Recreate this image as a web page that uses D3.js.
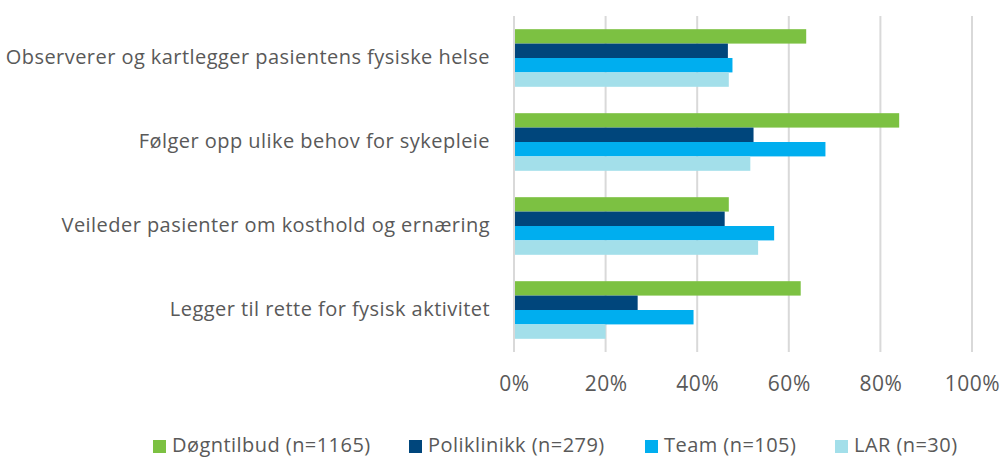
<!DOCTYPE html>
<html>
<head>
  <meta charset="utf-8">
  <script src="https://d3js.org/d3.v7.min.js"></script>
  <style>
    body { margin: 0; background: #fff; }
    text { font-family: "Open Sans", sans-serif; fill: #595959; }
    .grid line { stroke: #d9d9d9; stroke-width: 2px; }
  </style>
</head>
<body>
<svg width="1000" height="458"></svg>
<script>
  var categories = [
    "Observerer og kartlegger pasientens fysiske helse",
    "Følger opp ulike behov for sykepleie",
    "Veileder pasienter om kosthold og ernæring",
    "Legger til rette for fysisk aktivitet"
  ];
  var seriesNames = ["Døgntilbud (n=1165)", "Poliklinikk (n=279)", "Team (n=105)", "LAR (n=30)"];
  var seriesColors = ["#7cc142", "#00467c", "#00aeef", "#a3dfea"];
  var dogn = [63.8, 84.1, 46.9, 62.6];
  var poli = [46.7, 52.3, 46.0, 27.0];
  var team = [47.7, 68.0, 56.8, 39.2];
  var lar  = [46.9, 51.6, 53.3, 20.0];
  var tickValues = [0, 20, 40, 60, 80, 100];

  var series = [dogn, poli, team, lar];

  var svg = d3.select("svg");
  var plotLeft = 514, plotRight = 972, plotTop = 16, plotBottom = 352;

  var x = d3.scaleLinear().domain([0, 100]).range([plotLeft, plotRight]);
  var y = d3.scaleBand().domain(categories).range([plotTop, plotBottom]).paddingInner(0.314).paddingOuter(0.157);
  var y1 = d3.scaleBand().domain(d3.range(series.length)).range([0, y.bandwidth()]);

  // gridlines
  svg.append("g").attr("class", "grid")
    .selectAll("line").data(tickValues).enter().append("line")
    .attr("x1", function(d) { return x(d); })
    .attr("x2", function(d) { return x(d); })
    .attr("y1", plotTop).attr("y2", plotBottom);

  // bars
  var groups = svg.append("g").selectAll("g").data(categories).enter().append("g")
    .attr("transform", function(d) { return "translate(0," + y(d) + ")"; });

  groups.selectAll("rect")
    .data(function(d, i) { return series.map(function(s, k) { return { k: k, v: s[i] }; }); })
    .enter().append("rect")
    .attr("x", x(0) + 1)
    .attr("y", function(d) { return y1(d.k); })
    .attr("width", function(d) { return x(d.v) - x(0) - 1; })
    .attr("height", y1.bandwidth())
    .attr("fill", function(d) { return seriesColors[d.k]; });

  // category labels
  svg.append("g").selectAll("text").data(categories).enter().append("text")
    .attr("x", 490)
    .attr("y", function(d) { return y(d) + y.bandwidth() / 2; })
    .attr("dy", "0.3em")
    .attr("text-anchor", "end")
    .style("font-size", "20px")
    .style("letter-spacing", "0.45px")
    .text(function(d) { return d; });

  // x axis labels
  var xAxis = d3.axisBottom(x).tickValues(tickValues).tickSize(0).tickPadding(0)
    .tickFormat(function(d) { return d + "%"; });
  var ax = svg.append("g").attr("transform", "translate(0,375)").call(xAxis);
  ax.select(".domain").remove();
  ax.selectAll("text").attr("dy", null).attr("y", 16)
    .style("font-size", "21px").style("letter-spacing", "0.5px")
    .attr("fill", "#595959")
    .style("font-family", "'Open Sans', sans-serif");

  // legend
  var legendX = [153, 409, 645, 835];
  var legend = svg.append("g").selectAll("g").data(seriesNames).enter().append("g")
    .attr("transform", function(d, i) { return "translate(" + legendX[i] + ",440)"; });
  legend.append("rect").attr("width", 13).attr("height", 13)
    .attr("fill", function(d, i) { return seriesColors[i]; });
  legend.append("text").attr("x", 19).attr("y", 12)
    .style("font-size", "20px")
    .style("letter-spacing", "0.45px")
    .text(function(d) { return d; });
</script>
</body>
</html>
